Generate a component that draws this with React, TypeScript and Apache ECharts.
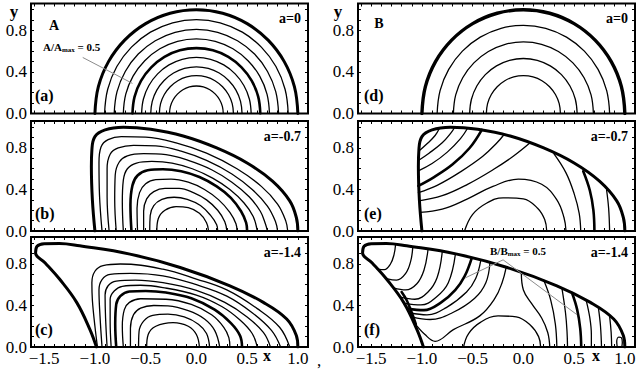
import React, { useEffect, useRef } from "react";
import * as echarts from "echarts";

const FONT = "Liberation Serif, DejaVu Serif, serif";

// ---- axis ticks / labels ----
const X_MIN = -1.63;
const X_MAX = 1.1;
const Y_MIN = 0;
const Y_MAX = 1.06;
const X_TICKS = [-1.6, -1.5, -1.4, -1.3, -1.2, -1.1, -1.0, -0.9, -0.8, -0.7, -0.6, -0.5, -0.4, -0.3, -0.2, -0.1, 0, 0.1, 0.2, 0.3, 0.4, 0.5, 0.6, 0.7, 0.8, 0.9, 1.0, 1.1];
const X_LABELS = [-1.5, -1.0, -0.5, 0, 0.5, 1.0];
const Y_TICKS = [0, 0.1, 0.2, 0.3, 0.4, 0.5, 0.6, 0.7, 0.8, 0.9, 1.0];
const Y_LABELS = [0, 0.4, 0.8];
const PANEL_TAGS = ["(a)", "(b)", "(c)", "(d)", "(e)", "(f)"];
const PANEL_PARAMS = ["a=0", "a=-0.7", "a=-1.4", "a=0", "a=-0.7", "a=-1.4"];

// ---- boundaries of the domain ----
const BND_0 = [[1, 0], [0.966, 0.259], [0.866, 0.5], [0.707, 0.707], [0.5, 0.866], [0.259, 0.966], [0, 1], [-0.259, 0.966], [-0.5, 0.866], [-0.707, 0.707], [-0.866, 0.5], [-0.966, 0.259], [-1, 0]];
const BND_07 = [[-1.0, 0], [-1.025, 0.3], [-1.035, 0.62], [-1.03, 0.78], [-1.0, 0.91], [-0.9, 0.975], [-0.72, 1.0], [-0.45, 0.98], [-0.13, 0.915], [0.2, 0.8], [0.5, 0.655], [0.75, 0.48], [0.92, 0.29], [0.985, 0.13], [1.0, 0]];
const BND_14 = [[-0.985, 0], [-1.05, 0.17], [-1.18, 0.43], [-1.345, 0.65], [-1.49, 0.81], [-1.585, 0.905], [-1.57, 0.97], [-1.5, 0.995], [-1.35, 0.998], [-1.15, 0.975], [-0.655, 0.895], [-0.16, 0.766], [0.33, 0.59], [0.66, 0.43], [0.89, 0.27], [0.985, 0.11], [1.0, 0]];

// ---- panel (a): A contours, a = 0 ----
const A0_1 = [[0.905, 0], [0.874, 0.234], [0.784, 0.453], [0.64, 0.64], [0.453, 0.784], [0.234, 0.874], [0, 0.905], [-0.234, 0.874], [-0.453, 0.784], [-0.64, 0.64], [-0.784, 0.453], [-0.874, 0.234], [-0.905, 0]];
const A0_2 = [[0.81, 0], [0.782, 0.21], [0.701, 0.405], [0.573, 0.573], [0.405, 0.701], [0.21, 0.782], [0, 0.81], [-0.21, 0.782], [-0.405, 0.701], [-0.573, 0.573], [-0.701, 0.405], [-0.782, 0.21], [-0.81, 0]];
const A0_3 = [[0.72, 0], [0.696, 0.186], [0.624, 0.36], [0.509, 0.509], [0.36, 0.624], [0.186, 0.696], [0, 0.72], [-0.186, 0.696], [-0.36, 0.624], [-0.509, 0.509], [-0.624, 0.36], [-0.696, 0.186], [-0.72, 0]];
const A0_4 = [[0.63, 0], [0.609, 0.163], [0.546, 0.315], [0.445, 0.445], [0.315, 0.546], [0.163, 0.609], [0, 0.63], [-0.163, 0.609], [-0.315, 0.546], [-0.445, 0.445], [-0.546, 0.315], [-0.609, 0.163], [-0.63, 0]];
const A0_5 = [[0.54, 0], [0.522, 0.14], [0.468, 0.27], [0.382, 0.382], [0.27, 0.468], [0.14, 0.522], [0, 0.54], [-0.14, 0.522], [-0.27, 0.468], [-0.382, 0.382], [-0.468, 0.27], [-0.522, 0.14], [-0.54, 0]];
const A0_6 = [[0.45, 0], [0.435, 0.117], [0.39, 0.225], [0.318, 0.318], [0.225, 0.39], [0.117, 0.435], [0, 0.45], [-0.117, 0.435], [-0.225, 0.39], [-0.318, 0.318], [-0.39, 0.225], [-0.435, 0.117], [-0.45, 0]];
const A0_7 = [[0.365, 0], [0.353, 0.095], [0.316, 0.183], [0.258, 0.258], [0.183, 0.316], [0.095, 0.353], [0, 0.365], [-0.095, 0.353], [-0.183, 0.316], [-0.258, 0.258], [-0.316, 0.183], [-0.353, 0.095], [-0.365, 0]];
const A0_8 = [[0.265, 0], [0.256, 0.069], [0.229, 0.133], [0.187, 0.187], [0.133, 0.229], [0.069, 0.256], [0, 0.265], [-0.069, 0.256], [-0.133, 0.229], [-0.187, 0.187], [-0.229, 0.133], [-0.256, 0.069], [-0.265, 0]];

// ---- panel (b): A contours, a = -0.7 ----
const A7_1 = [[-0.93, 0], [-0.955, 0.35], [-0.96, 0.66], [-0.94, 0.81], [-0.87, 0.88], [-0.74, 0.91], [-0.5, 0.905], [-0.2, 0.85], [0.1, 0.75], [0.4, 0.6], [0.64, 0.43], [0.8, 0.26], [0.88, 0.1], [0.9, 0]];
const A7_2 = [[-0.86, 0], [-0.88, 0.33], [-0.88, 0.6], [-0.85, 0.74], [-0.77, 0.8], [-0.62, 0.825], [-0.4, 0.82], [-0.15, 0.77], [0.1, 0.68], [0.35, 0.55], [0.55, 0.4], [0.7, 0.24], [0.78, 0.09], [0.8, 0]];
const A7_3 = [[-0.79, 0], [-0.805, 0.3], [-0.8, 0.54], [-0.76, 0.665], [-0.68, 0.725], [-0.52, 0.745], [-0.3, 0.735], [-0.08, 0.68], [0.15, 0.59], [0.35, 0.47], [0.52, 0.33], [0.63, 0.19], [0.68, 0.07], [0.7, 0]];
const A7_4 = [[-0.72, 0], [-0.73, 0.28], [-0.72, 0.49], [-0.68, 0.6], [-0.59, 0.655], [-0.44, 0.67], [-0.24, 0.655], [-0.04, 0.6], [0.16, 0.51], [0.33, 0.4], [0.47, 0.27], [0.56, 0.14], [0.6, 0]];
const A7_5 = [[-0.64, 0], [-0.65, 0.25], [-0.63, 0.44], [-0.58, 0.535], [-0.48, 0.585], [-0.33, 0.595], [-0.15, 0.575], [0.03, 0.52], [0.2, 0.43], [0.34, 0.32], [0.44, 0.19], [0.49, 0.08], [0.5, 0]];
const A7_6 = [[-0.58, 0], [-0.585, 0.22], [-0.56, 0.37], [-0.5, 0.455], [-0.4, 0.495], [-0.25, 0.5], [-0.08, 0.47], [0.08, 0.4], [0.22, 0.3], [0.33, 0.18], [0.39, 0.07], [0.4, 0]];
const A7_7 = [[-0.52, 0], [-0.52, 0.19], [-0.49, 0.31], [-0.42, 0.38], [-0.31, 0.41], [-0.17, 0.41], [-0.03, 0.37], [0.1, 0.3], [0.21, 0.2], [0.28, 0.09], [0.3, 0]];
const A7_8 = [[-0.46, 0], [-0.455, 0.15], [-0.42, 0.245], [-0.34, 0.305], [-0.22, 0.325], [-0.09, 0.305], [0.04, 0.245], [0.14, 0.15], [0.2, 0.06], [0.21, 0]];
const A7_9 = [[-0.39, 0], [-0.375, 0.12], [-0.31, 0.2], [-0.2, 0.235], [-0.08, 0.225], [0.03, 0.17], [0.1, 0.08], [0.12, 0]];

// ---- panel (c): A contours, a = -1.4 ----
const A14_1 = [[-0.975, 0], [-1.0, 0.2], [-1.025, 0.45], [-1.03, 0.62], [-1.0, 0.73], [-0.92, 0.785], [-0.75, 0.8], [-0.33, 0.75], [0.0, 0.655], [0.3, 0.55], [0.6, 0.37], [0.82, 0.19], [0.92, 0]];
const A14_2 = [[-0.93, 0], [-0.95, 0.3], [-0.96, 0.55], [-0.93, 0.65], [-0.85, 0.7], [-0.65, 0.71], [-0.33, 0.686], [0.0, 0.6], [0.3, 0.49], [0.55, 0.33], [0.74, 0.16], [0.83, 0]];
const A14_3 = [[-0.88, 0], [-0.895, 0.28], [-0.9, 0.5], [-0.87, 0.59], [-0.79, 0.635], [-0.6, 0.645], [-0.33, 0.62], [0.0, 0.545], [0.28, 0.43], [0.5, 0.29], [0.66, 0.14], [0.73, 0]];
const A14_4 = [[-0.84, 0], [-0.85, 0.25], [-0.85, 0.46], [-0.81, 0.54], [-0.73, 0.585], [-0.55, 0.595], [-0.33, 0.573], [0.0, 0.5], [0.25, 0.39], [0.43, 0.26], [0.55, 0.13], [0.6, 0]];
const A14_5 = [[-0.79, 0], [-0.8, 0.22], [-0.79, 0.41], [-0.75, 0.49], [-0.66, 0.535], [-0.5, 0.54], [-0.3, 0.525], [-0.05, 0.47], [0.18, 0.36], [0.34, 0.23], [0.43, 0.11], [0.45, 0]];
const A14_6 = [[-0.72, 0], [-0.73, 0.2], [-0.71, 0.36], [-0.66, 0.43], [-0.55, 0.465], [-0.3, 0.46], [-0.05, 0.41], [0.15, 0.31], [0.27, 0.19], [0.32, 0.09], [0.33, 0]];
const A14_7 = [[-0.65, 0], [-0.65, 0.18], [-0.62, 0.31], [-0.55, 0.375], [-0.42, 0.4], [-0.28, 0.396], [-0.08, 0.35], [0.08, 0.27], [0.18, 0.16], [0.23, 0]];
const A14_8 = [[-0.57, 0], [-0.565, 0.15], [-0.52, 0.25], [-0.43, 0.305], [-0.28, 0.316], [-0.12, 0.29], [0.02, 0.22], [0.1, 0.13], [0.13, 0]];
const A14_9 = [[-0.49, 0], [-0.475, 0.12], [-0.4, 0.2], [-0.23, 0.235], [-0.08, 0.2], [0.0, 0.12], [0.03, 0]];

// ---- panel (d): B contours, a = 0 ----
const B0_1 = [[0.85, 0], [0.821, 0.22], [0.736, 0.425], [0.601, 0.601], [0.425, 0.736], [0.22, 0.821], [0, 0.85], [-0.22, 0.821], [-0.425, 0.736], [-0.601, 0.601], [-0.736, 0.425], [-0.821, 0.22], [-0.85, 0]];
const B0_2 = [[0.69, 0], [0.667, 0.179], [0.598, 0.345], [0.488, 0.488], [0.345, 0.598], [0.179, 0.667], [0, 0.69], [-0.179, 0.667], [-0.345, 0.598], [-0.488, 0.488], [-0.598, 0.345], [-0.667, 0.179], [-0.69, 0]];
const B0_3 = [[0.53, 0], [0.512, 0.137], [0.459, 0.265], [0.375, 0.375], [0.265, 0.459], [0.137, 0.512], [0, 0.53], [-0.137, 0.512], [-0.265, 0.459], [-0.375, 0.375], [-0.459, 0.265], [-0.512, 0.137], [-0.53, 0]];
const B0_4 = [[0.365, 0], [0.353, 0.095], [0.316, 0.183], [0.258, 0.258], [0.183, 0.316], [0.095, 0.353], [0, 0.365], [-0.095, 0.353], [-0.183, 0.316], [-0.258, 0.258], [-0.316, 0.183], [-0.353, 0.095], [-0.365, 0]];

// ---- panel (e): B contours, a = -0.7 ----
const B7_E1 = [[-1.03, 0.77], [-0.95, 0.84], [-0.87, 0.92], [-0.83, 0.985]];
const B7_E2 = [[-1.035, 0.68], [-0.93, 0.75], [-0.8, 0.85], [-0.71, 0.95], [-0.68, 0.995]];
const B7_E3 = [[-1.035, 0.58], [-0.9, 0.65], [-0.75, 0.76], [-0.62, 0.89], [-0.55, 0.99]];
const B7_E4 = [[-1.035, 0.435], [-0.88, 0.52], [-0.7, 0.64], [-0.53, 0.8], [-0.41, 0.975]];
const B7_E5 = [[-1.035, 0.37], [-0.85, 0.44], [-0.62, 0.57], [-0.4, 0.72], [-0.26, 0.85], [-0.19, 0.93]];
const B7_E6 = [[-1.03, 0.29], [-0.8, 0.34], [-0.55, 0.45], [-0.3, 0.59], [-0.1, 0.72], [0.06, 0.845]];
const B7_U2 = [[-1.02, 0.18], [-0.8, 0.21], [-0.55, 0.31], [-0.3, 0.43], [-0.05, 0.5], [0.18, 0.45], [0.33, 0.3], [0.4, 0.13], [0.42, 0]];
const B7_U1 = [[-0.58, 0], [-0.5, 0.16], [-0.36, 0.27], [-0.2, 0.32], [0.0, 0.31], [0.14, 0.22], [0.21, 0.11], [0.23, 0]];
const B7_R1 = [[0.3, 0.745], [0.42, 0.56], [0.5, 0.36], [0.55, 0.17], [0.565, 0]];
const B7_R2 = [[0.59, 0.575], [0.655, 0.39], [0.69, 0.2], [0.7, 0]];
const B7_R3 = [[0.82, 0.395], [0.84, 0.22], [0.85, 0]];

// ---- panel (f): B contours, a = -1.4 ----
const B14_H1 = [[-1.44, 0.75], [-1.37, 0.745], [-1.31, 0.8], [-1.275, 0.89], [-1.26, 0.985]];
const B14_H2 = [[-1.35, 0.66], [-1.25, 0.645], [-1.16, 0.71], [-1.11, 0.83], [-1.09, 0.965]];
const B14_H3 = [[-1.28, 0.57], [-1.16, 0.55], [-1.05, 0.61], [-0.98, 0.74], [-0.94, 0.94]];
const B14_H4 = [[-1.21, 0.48], [-1.07, 0.46], [-0.94, 0.53], [-0.85, 0.67], [-0.8, 0.915]];
const B14_H5 = [[-1.17, 0.42], [-1.01, 0.405], [-0.86, 0.48], [-0.74, 0.62], [-0.67, 0.895]];
const B14_H6 = [[-1.14, 0.37], [-0.98, 0.355], [-0.81, 0.43], [-0.67, 0.55], [-0.58, 0.68], [-0.51, 0.855]];
const B14_H7 = [[-1.12, 0.33], [-0.95, 0.31], [-0.76, 0.38], [-0.56, 0.53], [-0.47, 0.66], [-0.42, 0.835]];
const B14_H8 = [[-1.1, 0.29], [-0.92, 0.265], [-0.7, 0.33], [-0.48, 0.47], [-0.37, 0.62], [-0.33, 0.81]];
const B14_V = [[-1.08, 0.24], [-0.97, 0.12], [-0.87, 0.055], [-0.69, 0.167], [-0.43, 0.3], [-0.28, 0.47], [-0.21, 0.62], [-0.17, 0.765]];
const B14_EDGE = [[-1.06, 0.22], [-1.1, 0.33], [-1.15, 0.45], [-1.2, 0.53]];
const B14_U1 = [[-0.59, 0], [-0.54, 0.13], [-0.42, 0.24], [-0.25, 0.3], [-0.07, 0.29], [0.07, 0.21], [0.15, 0.1], [0.17, 0]];
const B14_U2 = [[-0.02, 0.71], [0.0, 0.55], [0.08, 0.42], [0.18, 0.28], [0.24, 0.14], [0.26, 0]];
const B14_R1 = [[0.2, 0.645], [0.27, 0.45], [0.315, 0.22], [0.33, 0]];
const B14_R2 = [[0.38, 0.565], [0.415, 0.33], [0.43, 0.15], [0.435, 0]];
const B14_R3 = [[0.48, 0.52], [0.53, 0.36], [0.56, 0.18], [0.57, 0]];
const B14_R4 = [[0.62, 0.445], [0.655, 0.28], [0.67, 0.12], [0.67, 0]];
const B14_R5 = [[0.74, 0.372], [0.76, 0.2], [0.77, 0]];
const B14_R6 = [[0.85, 0.295], [0.865, 0.14], [0.87, 0]];
const B14_LOOP = [[0.925, 0], [0.92, 0.05], [0.94, 0.095], [0.965, 0.09], [0.975, 0.045], [0.97, 0]];

// ---- annotation arrows (data coordinates) ----
const ARROW_A = [[-1.12, 0.54], [-0.63, 0.29]];
const ARROW_B1 = [[-0.2, 0.84], [-0.575, 0.665]];
const ARROW_B2 = [[-0.2, 0.84], [0.53, 0.31]];

// line widths
const W_BND = 3;
const W_THICK = 2.6;
const W_THIN = 1.3;

const PANELS: [number[][], number][][] = [
  [[BND_0, W_BND], [A0_1, W_THIN], [A0_2, W_THIN], [A0_3, W_THIN], [A0_4, W_THICK], [A0_5, W_THIN], [A0_6, W_THIN], [A0_7, W_THIN], [A0_8, W_THIN]],
  [[BND_07, W_BND], [A7_1, W_THIN], [A7_2, W_THIN], [A7_3, W_THIN], [A7_4, W_THIN], [A7_5, W_THICK], [A7_6, W_THIN], [A7_7, W_THIN], [A7_8, W_THIN], [A7_9, W_THIN]],
  [[BND_14, W_BND], [A14_1, W_THIN], [A14_2, W_THIN], [A14_3, W_THIN], [A14_4, W_THIN], [A14_5, W_THICK], [A14_6, W_THIN], [A14_7, W_THIN], [A14_8, W_THIN], [A14_9, W_THIN]],
  [[BND_0, 3.4], [B0_1, W_THIN], [B0_2, W_THIN], [B0_3, W_THIN], [B0_4, W_THIN]],
  [[BND_07, W_BND], [B7_E1, W_THIN], [B7_E2, W_THIN], [B7_E3, W_THIN], [B7_E4, W_THICK], [B7_E5, W_THIN], [B7_E6, W_THIN], [B7_U2, W_THIN], [B7_U1, W_THIN], [B7_R1, W_THIN], [B7_R2, W_THICK], [B7_R3, W_THIN]],
  [[BND_14, W_BND], [B14_H1, W_THIN], [B14_H2, W_THIN], [B14_H3, W_THIN], [B14_H4, W_THIN], [B14_H5, W_THIN], [B14_H6, W_THICK], [B14_H7, W_THIN], [B14_H8, W_THIN], [B14_V, W_THIN], [B14_EDGE, W_THICK], [B14_U1, W_THIN], [B14_U2, W_THIN], [B14_R1, W_THIN], [B14_R2, W_THIN], [B14_R3, W_THICK], [B14_R4, W_THIN], [B14_R5, W_THIN], [B14_R6, W_THIN], [B14_LOOP, W_THIN]],
];

// layout
const COL_LEFT = [31, 358];
const GRID_W = 277;
const ROW_TOP = [3.5, 121, 237];
const GRID_H = 110;

function fmt(v: number) {
  const s = Math.abs(v).toFixed(1);
  return v < 0 ? "\u2212" + s : s;
}

function buildOption() {
  const grid: any[] = [];
  const xAxis: any[] = [];
  const yAxis: any[] = [];
  const series: any[] = [];
  const graphic: any[] = [];
  const noLine = { show: false, onZero: false };

  for (let g = 0; g < 6; g++) {
    const col = g < 3 ? 0 : 1;
    const row = g % 3;
    const left = COL_LEFT[col];
    const top = ROW_TOP[row];
    grid.push({
      left,
      top,
      width: GRID_W,
      height: GRID_H,
      show: true,
      borderColor: "#000",
      borderWidth: 2,
      backgroundColor: "transparent",
      z: 3,
    });
    const tickStyle = { show: true, inside: true, length: 3, lineStyle: { color: "#000", width: 1 } };
    xAxis.push({
      type: "value",
      gridIndex: g,
      position: "bottom",
      min: X_MIN,
      max: X_MAX,
      axisLine: noLine,
      splitLine: { show: false },
      axisTick: { ...tickStyle, customValues: X_TICKS },
      axisLabel: {
        show: row === 2,
        customValues: X_LABELS,
        formatter: (v: number) => fmt(v),
        fontFamily: FONT,
        fontSize: 17,
        color: "#000",
        margin: 3,
      },
    });
    xAxis.push({
      type: "value",
      gridIndex: g,
      position: "top",
      min: X_MIN,
      max: X_MAX,
      axisLine: noLine,
      splitLine: { show: false },
      axisTick: { ...tickStyle, customValues: X_TICKS },
      axisLabel: { show: false },
    });
    yAxis.push({
      type: "value",
      gridIndex: g,
      position: "left",
      min: Y_MIN,
      max: Y_MAX,
      axisLine: noLine,
      splitLine: { show: false },
      axisTick: { ...tickStyle, customValues: Y_TICKS },
      axisLabel: {
        show: true,
        customValues: Y_LABELS,
        formatter: (v: number) => fmt(v),
        fontFamily: FONT,
        fontSize: 17,
        color: "#000",
        margin: 4,
      },
    });
    yAxis.push({
      type: "value",
      gridIndex: g,
      position: "right",
      min: Y_MIN,
      max: Y_MAX,
      axisLine: noLine,
      splitLine: { show: false },
      axisTick: { ...tickStyle, customValues: Y_TICKS },
      axisLabel: { show: false },
    });

    PANELS[g].forEach(([data, w], i) => {
      const s: any = {
        type: "line",
        xAxisIndex: 2 * g,
        yAxisIndex: 2 * g,
        data,
        smooth: 0.4,
        symbol: "none",
        showSymbol: false,
        silent: true,
        clip: true,
        lineStyle: { color: "#000", width: w, cap: "round", join: "round" },
        z: 2,
      };
      if (i === 0 && (g === 0 || g === 5)) {
        const arrows = g === 0 ? [ARROW_A] : [ARROW_B1, ARROW_B2];
        s.markLine = {
          silent: true,
          symbol: ["none", "arrow"],
          symbolSize: [0, 7],
          precision: 3,
          label: { show: false },
          lineStyle: { color: "#8c8c8c", width: 1, type: "solid" },
          data: arrows.map((a) => [{ coord: a[0] }, { coord: a[1] }]),
          z: 5,
        };
      }
      series.push(s);
    });

    // panel tag and parameter
    graphic.push({
      type: "text",
      x: left + (col === 0 ? 4 : 6),
      y: top + GRID_H - 18,
      style: { text: PANEL_TAGS[g], fontFamily: FONT, fontSize: 16, fontWeight: "bold", fill: "#000", verticalAlign: "middle", align: "left" },
      z: 10,
    });
    graphic.push({
      type: "text",
      x: left + GRID_W - 7,
      y: top + 15,
      style: { text: PANEL_PARAMS[g], fontFamily: FONT, fontSize: 14, fontWeight: "bold", fill: "#000", verticalAlign: "middle", align: "right" },
      z: 10,
    });
  }

  const txt = (text: string, x: number, y: number, size: number, bold = true) => ({
    type: "text",
    x,
    y,
    style: { text, fontFamily: FONT, fontSize: size, fontWeight: bold ? "bold" : "normal", fill: "#000", align: "center", verticalAlign: "middle" },
    z: 10,
  });
  graphic.push(txt("A", 54, 25, 14));
  graphic.push(txt("B", 379, 23, 14));
  graphic.push(txt("y", 14, 11, 17));
  graphic.push(txt("y", 338, 11, 17));
  graphic.push(txt("x", 267, 355, 16));
  graphic.push(txt("x", 596, 355, 16));
  graphic.push(txt(",", 319, 360, 17, false));

  const rich = {
    n: { fontFamily: FONT, fontSize: 11, fontWeight: "bold", fill: "#000" },
    s: { fontFamily: FONT, fontSize: 7, fontWeight: "bold", fill: "#000", padding: [6, 0, 0, 0] },
  };
  graphic.push({ type: "text", x: 43, y: 47, style: { text: "{n|A/A}{s|max}{n| = 0.5}", rich, verticalAlign: "middle", align: "left" }, z: 10 });
  graphic.push({ type: "text", x: 490, y: 251, style: { text: "{n|B/B}{s|max}{n| = 0.5}", rich, verticalAlign: "middle", align: "left" }, z: 10 });

  return {
    animation: false,
    backgroundColor: "#fff",
    textStyle: { fontFamily: FONT },
    grid,
    xAxis,
    yAxis,
    series,
    graphic,
  };
}

export default function App() {
  const ref = useRef<HTMLDivElement>(null);
  useEffect(() => {
    if (!ref.current) return;
    const chart = echarts.init(ref.current, undefined, { renderer: "svg" });
    chart.setOption(buildOption() as any);
    return () => chart.dispose();
  }, []);
  return <div ref={ref} style={{ position: "fixed", left: 0, top: 0, width: 640, height: 374 }} />;
}
